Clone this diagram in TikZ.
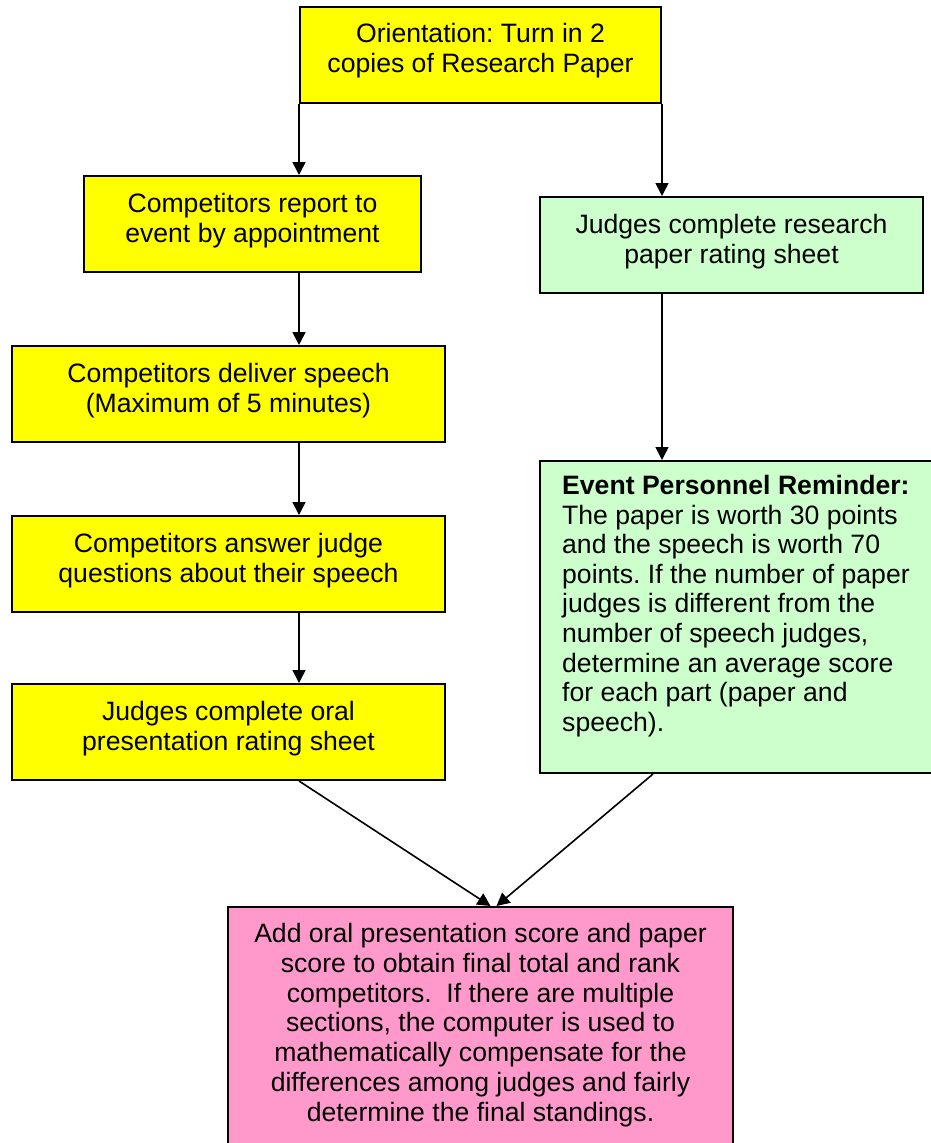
\documentclass[tikz,border=0pt]{standalone}
\usepackage{fontspec}
\setmainfont{Liberation Sans}
\frenchspacing
\usetikzlibrary{arrows.meta,calc}
\definecolor{boxyellow}{HTML}{FFFF00}
\definecolor{boxgreen}{HTML}{CCFFCC}
\definecolor{boxpink}{HTML}{FF99CC}
\tikzset{
  box/.style={draw=black, line width=2pt, inner sep=0pt, anchor=north west},
  txt/.style={inner sep=0pt, align=center, anchor=north,
    font=\fontsize{26.6pt}{29.8pt}\selectfont},
  txtl/.style={inner sep=0pt, align=left, anchor=north west,
    font=\fontsize{26.6pt}{29.6pt}\selectfont},
  conn/.style={draw=black, line width=1.6pt, -{Triangle[length=13pt,width=13pt]}},
}
\begin{document}
\begin{tikzpicture}[x=1pt,y=-1pt]
\useasboundingbox[fill=white] (0,0) rectangle (930,1143);
% boxes
\node[box, fill=boxyellow, minimum width=361pt, minimum height=96pt] (b1) at (299,6) {};
\node[box, fill=boxyellow, minimum width=337pt, minimum height=96pt] (b2) at (83,175) {};
\node[box, fill=boxgreen, minimum width=383pt, minimum height=96pt] (b3) at (539,196) {};
\node[box, fill=boxyellow, minimum width=433pt, minimum height=96pt] (b4) at (11,345) {};
\node[box, fill=boxyellow, minimum width=433pt, minimum height=96pt] (b5) at (11,515) {};
\node[box, fill=boxyellow, minimum width=433pt, minimum height=96pt] (b6) at (11,683) {};
\node[box, fill=boxgreen, minimum width=400pt, minimum height=312pt] (b7) at (539,460) {};
\node[box, fill=boxpink, minimum width=505pt, minimum height=260pt] (b8) at (227,906) {};
% texts
\node[txt] (t1) at ($(b1.north)+(0,17)$) {Orientation: Turn in 2\\copies of Research Paper};
\node[txt] (t2) at ($(b2.north)+(0,18)$) {Competitors report to\\event by appointment};
\node[txt] (t3) at ($(b3.north)+(0,18)$) {Judges complete research\\paper rating sheet};
\node[txt] (t4) at ($(b4.north)+(0,18)$) {Competitors deliver speech\\(Maximum of 5 minutes)};
\node[txt] (t5) at ($(b5.north)+(0,18)$) {Competitors answer judge\\questions about their speech};
\node[txt] (t6) at ($(b6.north)+(0,18)$) {Judges complete oral\\presentation rating sheet};
\node[txtl] (t7) at ($(b7.north west)+(23,15)$) {\textbf{Event Personnel Reminder:}\\The paper is worth 30 points\\and the speech is worth 70\\points. If the number of paper\\judges is different from the\\number of speech judges,\\determine an average score\\for each part (paper and\\speech).};
\node[txt] (t8) at ($(b8.north)+(0,17)$) {Add oral presentation score and paper\\score to obtain final total and rank\\competitors.\ \ If there are multiple\\sections, the computer is used to\\mathematically compensate for the\\differences among judges and fairly\\determine the final standings.};
% connectors
\draw[conn] (b1.south west) -- (b1.south west |- b2.north);
\draw[conn] (b1.south east) -- (b1.south east |- b3.north);
\draw[conn] (b1.south west |- b2.south) -- (b1.south west |- b4.north);
\draw[conn] (b1.south west |- b4.south) -- (b1.south west |- b5.north);
\draw[conn] (b1.south west |- b5.south) -- (b1.south west |- b6.north);
\draw[conn] (b1.south east |- b3.south) -- (b1.south east |- b7.north);
\draw[conn] (b1.south west |- b6.south) -- ($(b8.north)+(10,0)$);
\draw[conn] ($(b7.south west)+(114,0)$) -- ($(b8.north)+(16,0)$);
\end{tikzpicture}
\end{document}
